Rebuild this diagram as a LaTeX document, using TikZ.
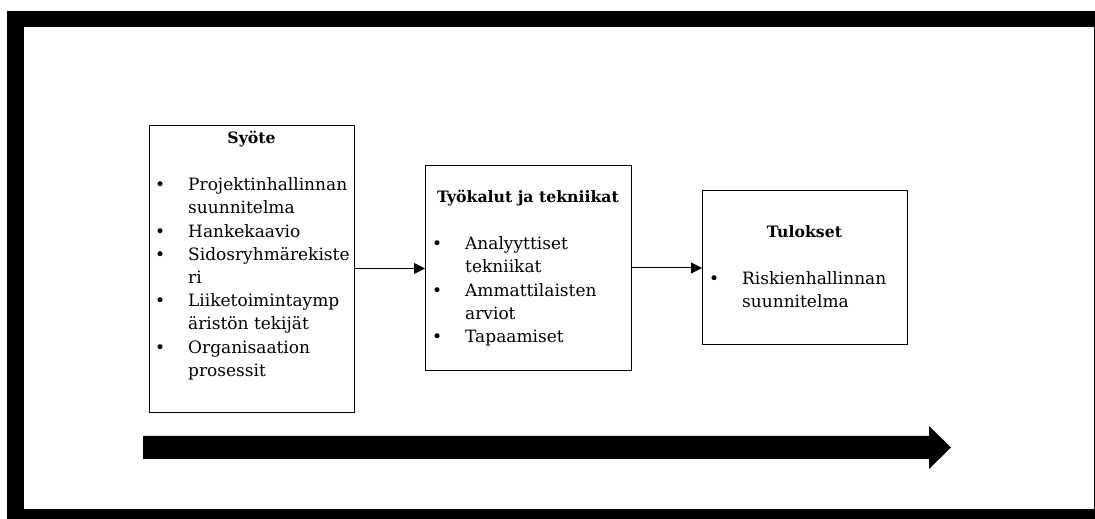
\documentclass[tikz,border=0pt]{standalone}
\usepackage{fontspec}
\setmainfont{DejaVu Serif}
\usepackage{tikz}
\usetikzlibrary{positioning,arrows.meta}

\newcommand{\itm}{\strut\llap{\textbullet\hspace{23pt}}}

\begin{document}
\begin{tikzpicture}[
				x=1pt, y=1pt,
				stagebox/.style={rectangle, draw=black, line width=1pt, fill=white, inner sep=0pt, outer sep=0pt},
				stagetitle/.style={font=\fontsize{15.7}{23.2}\selectfont\bfseries, inner sep=0pt, anchor=base},
				stagelist/.style={font=\fontsize{17}{23.2}\selectfont, align=left, inner sep=0pt, anchor=north west},
				flow/.style={-{Triangle[length=11pt,width=11pt]}, line width=1pt},
				]
				\useasboundingbox (0,0) rectangle (1095,519);
				%Frame
				\fill[black] (7,0) rectangle (1095,508);
				\fill[white] (24,10) rectangle (1094,492);
				
				%Nodes
				\node[stagebox, minimum width=205pt, minimum height=287pt](syote) at (251.5,249.5){};
				\node[stagebox, minimum width=206pt, minimum height=205pt](tyokalut) at (528,250.5){};
				\node[stagebox, minimum width=205pt, minimum height=154pt](tulokset) at (804.5,251){};
				
				\node[stagetitle](syotetitle) at ([yshift=-18pt]syote.north){Syöte};
				\node[stagelist](syotelist) at ([xshift=39pt,yshift=-48.3pt]syote.north west){%
					\itm Projektinhallinnan\\ suunnitelma\\
					\itm Hankekaavio\\
					\itm Sidosryhmärekiste\\ ri\\
					\itm Liiketoimintaymp\\ äristön tekijät\\
					\itm Organisaation\\ prosessit};
				
				\node[stagetitle](tyokalutitle) at ([yshift=-37pt]tyokalut.north){Työkalut ja tekniikat};
				\node[stagelist](tyokalulist) at ([xshift=40pt,yshift=-67.3pt]tyokalut.north west){%
					\itm Analyyttiset\\ tekniikat\\
					\itm Ammattilaisten\\ arviot\\
					\itm Tapaamiset};
				
				\node[stagetitle](tuloksettitle) at ([yshift=-47pt]tulokset.north){Tulokset};
				\node[stagelist](tuloksetlist) at ([xshift=40pt,yshift=-77.3pt]tulokset.north west){%
					\itm Riskienhallinnan\\ suunnitelma};
				
				%Lines
				\draw[flow] (syote.east |- tyokalut.west) -- (tyokalut.west);
				\draw[flow] (tyokalut.east |- tulokset.west) -- (tulokset.west);
				
				%Big arrow
				\fill[black] (143,83) -- (929,83) -- (929,93) -- (951,71.5) -- (929,50) -- (929,60) -- (143,60) -- cycle;
				
			\end{tikzpicture}
\end{document}
